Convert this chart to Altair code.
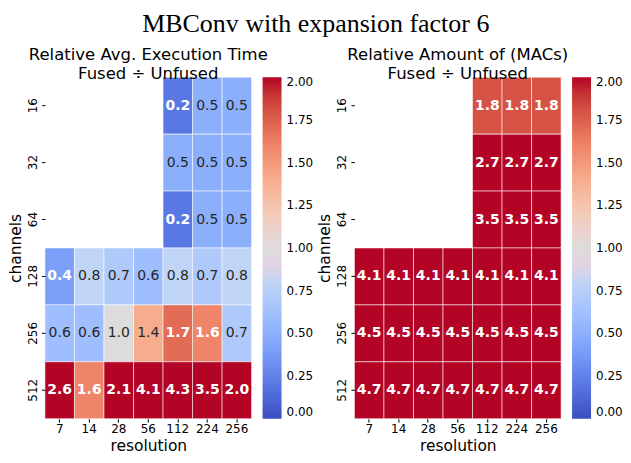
import altair as alt
import pandas as pd

channels = ["16", "32", "64", "128", "256", "512"]
resolutions = ["7", "14", "28", "56", "112", "224", "256"]

# Relative avg. execution time (fused / unfused), rows = channels
time_16 = [None, None, None, None, 0.2, 0.5, 0.5]
time_32 = [None, None, None, None, 0.5, 0.5, 0.5]
time_64 = [None, None, None, None, 0.2, 0.5, 0.5]
time_128 = [0.4, 0.8, 0.7, 0.6, 0.8, 0.7, 0.8]
time_256 = [0.6, 0.6, 1.0, 1.4, 1.7, 1.6, 0.7]
time_512 = [2.6, 1.6, 2.1, 4.1, 4.3, 3.5, 2.0]

# Relative amount of MACs (fused / unfused)
macs_16 = [None, None, None, None, 1.8, 1.8, 1.8]
macs_32 = [None, None, None, None, 2.7, 2.7, 2.7]
macs_64 = [None, None, None, None, 3.5, 3.5, 3.5]
macs_128 = [4.1, 4.1, 4.1, 4.1, 4.1, 4.1, 4.1]
macs_256 = [4.5, 4.5, 4.5, 4.5, 4.5, 4.5, 4.5]
macs_512 = [4.7, 4.7, 4.7, 4.7, 4.7, 4.7, 4.7]

legend_ticks = [0.0, 0.25, 0.5, 0.75, 1.0, 1.25, 1.5, 1.75, 2.0]
cw_stops = [0.0, 0.2, 0.4, 0.6, 0.8, 1.0, 1.2, 1.4, 1.6, 1.8, 2.0]
cw_colors = ["#3b4cc0", "#5a78e4", "#7b9ff9", "#9ebeff", "#c0d4f5", "#dddcdc",
             "#f2cbb7", "#f7ac8e", "#ee8468", "#d65244", "#b40426"]


def to_df(rows):
    recs = []
    for ch, vals in zip(channels, rows):
        for r, v in zip(resolutions, vals):
            if v is not None:
                recs.append({"channels": ch, "resolution": r, "v": v})
    return pd.DataFrame(recs)


time_df = to_df([time_16, time_32, time_64, time_128, time_256, time_512])
macs_df = to_df([macs_16, macs_32, macs_64, macs_128, macs_256, macs_512])

FONT = "DejaVu Sans"
W = 207
H = 342


def panel(df, line1):
    base = alt.Chart(df).encode(
        x=alt.X("resolution:O", sort=resolutions,
                scale=alt.Scale(domain=resolutions, paddingInner=0, paddingOuter=0),
                axis=alt.Axis(title="resolution", labelAngle=0, labelPadding=1.5,
                              titlePadding=4)),
        y=alt.Y("channels:O", sort=channels,
                scale=alt.Scale(domain=channels, paddingInner=0, paddingOuter=0),
                axis=alt.Axis(title="channels", labelAngle=270, labelPadding=2,
                              titlePadding=3)),
    )
    rect = base.mark_rect(stroke="white", strokeWidth=1, strokeOpacity=0.55).encode(
        color=alt.Color("v:Q", title=None,
                        scale=alt.Scale(domain=cw_stops, range=cw_colors, clamp=True),
                        legend=alt.Legend(values=legend_ticks, format=".2f",
                                          gradientLength=H, gradientThickness=19,
                                          gradientStrokeWidth=0, labelOffset=5,
                                          labelFontSize=12, labelFont=FONT,
                                          labelColor="black", labelBaseline="middle",
                                          offset=11, padding=0)),
    )
    test = "datum.v < 0.45 || datum.v > 1.55"
    text_dark = base.transform_filter(test).mark_text(
        fontSize=14, font=FONT, fontWeight="bold", color="white"
    ).encode(text=alt.Text("v:Q", format=".1f"))
    text_light = base.transform_filter("!(" + test + ")").mark_text(
        fontSize=14, font=FONT, fontWeight="normal", color="#262626"
    ).encode(text=alt.Text("v:Q", format=".1f"))
    return alt.layer(rect, text_dark, text_light).properties(
        width=W, height=H,
        title=alt.TitleParams([line1, "Fused \u00f7 Unfused"], font=FONT, fontSize=16.5,
                              fontWeight="normal", color="black", anchor="middle",
                              lineHeight=19, offset=-6),
    )


chart = alt.hconcat(
    panel(time_df, "Relative Avg. Execution Time"),
    panel(macs_df, "Relative Amount of (MACs)"),
    spacing=4,
).resolve_scale(color="independent").properties(
    title=alt.TitleParams("MBConv with expansion factor 6", font="Liberation Serif",
                          fontSize=26, fontWeight="normal", color="black",
                          anchor="middle", offset=10),
    padding={"top": 3, "left": 0, "right": 0, "bottom": 0},
).configure_view(stroke=None).configure_axis(
    labelFont=FONT, titleFont=FONT, labelFontSize=12, titleFontSize=15.5,
    titleFontWeight="normal", labelColor="black", titleColor="black",
    domain=False, grid=False, tickColor="black", tickSize=3.5,
)

chart.save("out.html", embed_options={"renderer": "svg", "actions": False})
